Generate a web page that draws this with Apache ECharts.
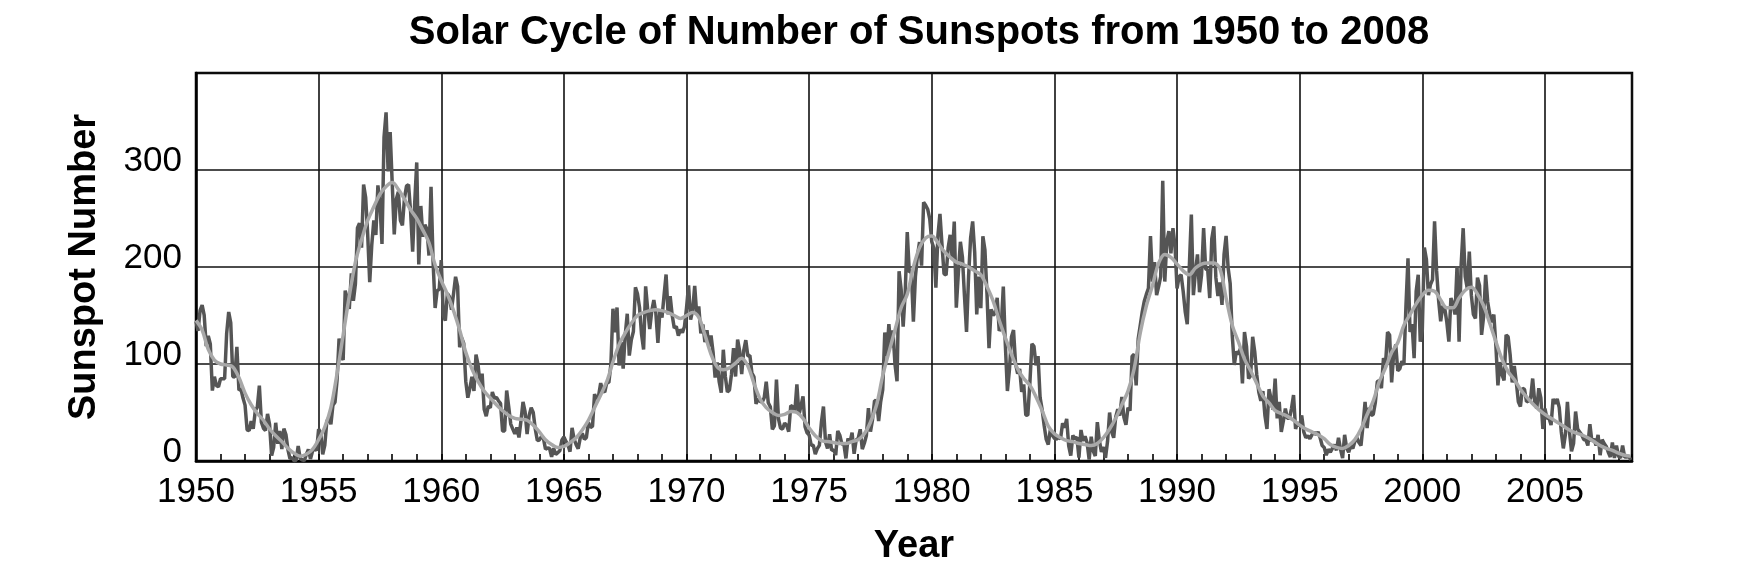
<!DOCTYPE html>
<html>
<head>
<meta charset="utf-8">
<title>Solar Cycle of Number of Sunspots from 1950 to 2008</title>
<script src="https://cdn.jsdelivr.net/npm/echarts@6/dist/echarts.min.js"></script>
<style>
html, body { margin: 0; padding: 0; background: #fff; }
#main { width: 1754px; height: 569px; }
</style>
</head>
<body>
<div id="main"></div>
<script>
var startYear = 1950;

// monthly sunspot number, one row per year (Jan..Dec)
var monthly1950s = [
	[143.9, 134.2, 155.3, 160.6, 150.4, 118.4, 128.9, 120.6, 72.6, 86.9, 77.6, 76.6],
	[84.8, 84.8, 84.8, 131.5, 153.6, 142.4, 87.1, 86.4, 117.7, 73.1, 74.2, 64.9],
	[57.6, 32.1, 31.2, 41.2, 33.1, 51.5, 55.6, 77.7, 39.9, 33.7, 31.3, 48.6],
	[37.5, 5.5, 14.2, 39.4, 17.7, 30.9, 12.2, 33.3, 27.3, 11.6, 2.3, 3.5],
	[0.3, 0.7, 15.4, 2.5, 1.1, 0.3, 6.8, 11.9, 2.1, 9.9, 13.0, 10.8],
	[32.7, 29.5, 6.9, 16.0, 40.9, 44.9, 37.8, 57.6, 60.5, 82.8, 126.3, 108.9],
	[104.2, 175.6, 167.7, 156.8, 193.4, 165.1, 182.8, 240.2, 245.3, 219.9, 285.0, 272.0],
	[233.6, 184.4, 222.9, 248.1, 233.1, 284.2, 265.1, 223.7, 333.9, 359.4, 298.6, 339.0],
	[286.7, 233.5, 270.0, 277.5, 248.2, 242.8, 271.0, 283.5, 284.9, 257.0, 215.7, 265.6],
	[307.8, 202.6, 262.9, 231.2, 243.6, 238.9, 211.8, 282.6, 205.6, 157.7, 175.6, 177.0]
];
var monthly1960s = [
	[207.2, 150.1, 144.7, 172.8, 169.4, 156.0, 172.3, 189.9, 180.1, 117.2, 126.9, 121.2],
	[82.0, 65.3, 75.0, 86.9, 72.2, 109.6, 99.4, 79.2, 90.1, 53.4, 46.2, 56.6],
	[54.8, 71.2, 64.6, 65.7, 61.9, 59.5, 30.9, 30.9, 72.6, 55.9, 38.1, 32.9],
	[28.0, 34.6, 24.2, 41.5, 60.9, 50.8, 27.8, 47.0, 54.9, 50.0, 33.1, 21.1],
	[21.7, 25.1, 23.4, 12.2, 13.5, 12.9, 4.4, 13.2, 6.7, 8.6, 10.5, 21.4],
	[24.8, 20.1, 16.6, 9.6, 34.1, 22.5, 16.9, 12.6, 23.8, 28.5, 22.4, 24.1],
	[39.9, 34.6, 35.8, 69.0, 64.1, 67.5, 80.3, 72.5, 71.1, 81.0, 81.0, 99.7],
	[157.0, 132.5, 158.3, 98.4, 122.5, 95.3, 129.6, 151.8, 108.7, 124.9, 133.5, 179.0],
	[172.5, 158.5, 130.6, 115.0, 180.1, 156.2, 136.1, 154.8, 166.0, 152.5, 121.8, 155.5],
	[147.8, 170.6, 192.3, 151.2, 169.9, 150.1, 137.1, 138.8, 129.3, 135.5, 132.4, 138.6]
];
var monthly1970s = [
	[157.9, 181.0, 145.7, 155.1, 180.5, 151.2, 159.3, 131.7, 140.9, 122.6, 134.8, 118.2],
	[129.3, 111.9, 86.0, 101.7, 81.4, 70.5, 114.7, 86.9, 71.1, 73.2, 89.5, 116.4],
	[87.1, 125.2, 113.4, 89.5, 114.0, 124.6, 108.3, 108.7, 90.6, 86.8, 58.9, 64.1],
	[61.5, 60.7, 65.1, 81.7, 60.0, 55.9, 32.7, 36.3, 84.0, 43.5, 33.8, 33.0],
	[39.1, 36.8, 30.2, 57.1, 55.9, 51.0, 79.0, 47.6, 56.9, 66.7, 35.4, 29.0],
	[26.8, 16.3, 16.3, 7.2, 12.7, 16.1, 39.9, 56.2, 19.7, 12.9, 27.5, 11.0],
	[11.5, 6.1, 31.0, 26.6, 17.6, 17.3, 2.7, 23.2, 19.1, 29.2, 7.4, 21.7],
	[23.2, 32.7, 12.3, 18.3, 26.3, 54.5, 30.3, 42.6, 62.3, 62.0, 41.2, 61.2],
	[73.5, 132.5, 108.3, 141.2, 117.1, 134.7, 99.7, 82.3, 195.7, 177.1, 138.6, 173.7],
	[235.9, 194.7, 195.4, 143.7, 190.3, 211.7, 225.7, 201.4, 266.8, 263.7, 259.6, 249.6]
];
var monthly1980s = [
	[226.0, 219.5, 178.7, 232.4, 254.7, 222.7, 193.0, 191.7, 219.5, 233.2, 209.4, 246.9],
	[158, 194, 226, 210, 170, 133, 190, 230, 247, 215, 151, 190],
	[157.5, 231.7, 217.8, 172.8, 116.4, 156.3, 150.2, 152.4, 168.2, 134.1, 138.9, 179.8],
	[119.4, 72.2, 94.2, 128, 135, 100, 90, 95, 71.2, 79.0, 47.2, 47.3],
	[80.7, 120.9, 118.2, 98.7, 108.2, 65.3, 53.0, 36.4, 22.2, 17.0, 32.3, 26.5],
	[23.4, 22.5, 24.4, 22.9, 38.9, 34.3, 43.5, 15.7, 5.5, 26.3, 22.9, 24.5],
	[3.5, 32.0, 20.8, 25.5, 18.9, 1.5, 25.0, 10.2, 5.2, 40, 21.0, 9.4],
	[14.4, 3.3, 20.3, 50, 30, 24.0, 45.5, 53.4, 46.8, 66, 45, 37.4],
	[55, 52, 108, 110, 78, 126, 140, 154, 165, 172, 178, 232],
	[185, 205, 171, 180, 190, 289, 185, 226, 237, 214, 240, 222]
];
var monthly1990s = [
	[178, 190, 192, 175, 154, 141, 200, 254, 171, 195, 213, 174],
	[192, 240, 198, 197, 168, 229, 242, 189, 170, 184, 161, 213],
	[232, 199, 183, 130, 99, 113, 110, 116, 80, 133, 118, 85],
	[88, 128, 113, 89, 71, 62, 72, 47, 33, 74, 64, 53],
	[85, 44, 61, 30, 41, 54, 44, 44, 54, 68, 33, 40],
	[36, 47, 30, 24, 26, 23, 27, 30, 27, 30, 24, 16],
	[14, 6, 12, 9, 13, 17, 11, 24, 12, 3, 27, 13],
	[9, 16, 13, 20, 24, 19, 16, 37, 61, 34, 55, 47],
	[48, 60, 82, 83, 75, 106, 100, 133, 130, 81, 111, 120],
	[93, 95, 103, 99, 160, 209, 133, 141, 106, 175, 192, 123]
];
var monthly2000s = [
	[135, 220, 208, 171, 182, 187, 247, 196, 165, 144, 160, 157],
	[143, 123, 168, 162, 151, 201, 123, 202, 240, 190, 178, 216],
	[171, 151, 147, 189, 181, 130, 149, 192, 164, 151, 143, 151],
	[119, 78, 102, 89, 83, 130, 128, 109, 81, 98, 81, 61],
	[56, 75, 74, 61, 62, 65, 85, 61, 54, 75, 65, 33],
	[54, 44, 44, 37, 64, 59, 64, 55, 30, 13, 27, 61],
	[30, 10, 18, 51, 33, 30, 27, 22, 22, 16, 38, 20],
	[23, 16, 27, 6, 22, 18, 15, 9, 4, 19, 3, 16],
	[5, 3, 16, 4, 4, 5, 1]
];

// smoothed sunspot number, one row per year (quarterly)
var smooth1950s = [
	[145, 135, 115, 104], [100, 99, 97, 86], [70, 58, 49, 42], [33, 26, 20, 13], [8, 5, 7, 12],
	[22, 35, 55, 90], [130, 170, 205, 228], [248, 262, 275, 283], [287, 280, 270, 259], [250, 238, 225, 202]
];
var smooth1960s = [
	[186, 172, 155, 135], [112, 95, 82, 72], [65, 58, 52, 47], [44, 43, 42, 37], [30, 22, 17, 14],
	[15, 19, 24, 32], [42, 55, 68, 82], [102, 120, 132, 142], [150, 153, 155, 156], [155, 153, 150, 147]
];
var smooth1970s = [
	[150, 153, 148, 130], [110, 97, 94, 96], [101, 106, 98, 80], [64, 55, 50, 47], [48, 51, 50, 44],
	[34, 26, 21, 20], [19, 18, 18, 20], [22, 28, 40, 58], [88, 112, 135, 158], [172, 200, 220, 230]
];
var smooth1980s = [
	[232, 225, 216, 210], [205, 203, 200, 196], [192, 180, 165, 145], [127, 110, 95, 85], [78, 66, 52, 36],
	[28, 24, 21, 20], [18, 17, 16, 18], [24, 33, 44, 58], [72, 95, 132, 160], [181, 204, 213, 210]
];
var smooth1990s = [
	[203, 196, 192, 199], [203, 204, 204, 198], [168, 140, 123, 105], [93, 80, 67, 60], [52, 49, 46, 42],
	[37, 33, 30, 27], [23, 17, 14, 13], [16, 22, 33, 48], [62, 82, 96, 112], [122, 140, 151, 162]
];
var smooth2000s = [
	[171, 176, 175, 166], [158, 158, 168, 176], [179, 172, 160, 142], [123, 105, 92, 84], [74, 66, 59, 53],
	[48, 44, 40, 36], [32, 29, 27, 24], [20, 16, 13, 11], [8, 6, 5]
];

var chartTitle = 'Solar Cycle of Number of Sunspots from 1950 to 2008';

// year rows -> [decimal year, value]
function toPoints(decades, perYear){
	var pts = [];
	var rows = [].concat.apply([], decades);
	for(var y=0;y<rows.length;y++){
		for(var k=0;k<rows[y].length;k++){
			pts.push([startYear + y + k/perYear, rows[y][k]]);
		}
	}
	return pts;
}

var monthlyPoints = toPoints([monthly1950s, monthly1960s, monthly1970s, monthly1980s, monthly1990s, monthly2000s], 12);
var smoothPoints = toPoints([smooth1950s, smooth1960s, smooth1970s, smooth1980s, smooth1990s, smooth2000s], 4);

var myChart = echarts.init(document.getElementById('main'));
var fontFamily = '"Liberation Sans", Arial, Helvetica, sans-serif';

var option = {
	animation: false,
	backgroundColor: '#fff',
	textStyle: { fontFamily: fontFamily },
	title: {
		text: chartTitle,
		left: 914,
		top: 8,
		textAlign: 'center',
		textStyle: { fontSize: 40, fontWeight: 'bold', color: '#000', fontFamily: fontFamily }
	},
	grid: {
		left: 196,
		right: 122,
		top: 73,
		bottom: 108,
		show: true,
		borderColor: '#000',
		borderWidth: 2.5,
		outerBoundsMode: 'none'
	},
	xAxis: [
		{
			type: 'value',
			min: 1950,
			max: 2008.55,
			interval: 5,
			name: 'Year',
			nameLocation: 'middle',
			nameGap: 67,
			nameTextStyle: { fontSize: 38, fontWeight: 'bold', color: '#000', fontFamily: fontFamily },
			axisLine: { show: true, lineStyle: { color: '#000', width: 2.5 } },
			axisTick: { show: false },
			axisLabel: {
				fontSize: 35, color: '#000', margin: 14, showMaxLabel: false, fontFamily: fontFamily,
				formatter: function(v){ return String(v); }
			},
			splitLine: { show: true, lineStyle: { color: '#111', width: 1.6 } }
		},
		{
			// yearly tick marks along the bottom
			type: 'value',
			position: 'bottom',
			min: 1950,
			max: 2008.55,
			interval: 1,
			axisLine: { show: false },
			axisLabel: { show: false },
			splitLine: { show: false },
			axisTick: { show: true, inside: true, length: 7, lineStyle: { color: '#000', width: 1.6 } }
		}
	],
	yAxis: {
		type: 'value',
		min: 0,
		max: 400,
		interval: 100,
		name: 'Sunspot Number',
		nameLocation: 'middle',
		nameGap: 92,
		nameTextStyle: { fontSize: 38, fontWeight: 'bold', color: '#000', fontFamily: fontFamily },
		axisLine: { show: true, lineStyle: { color: '#000', width: 2.5 } },
		axisTick: { show: false },
		axisLabel: {
			fontSize: 35, color: '#000', margin: 14, showMaxLabel: false, fontFamily: fontFamily,
			verticalAlign: 'bottom', lineHeight: 18
		},
		splitLine: { show: true, lineStyle: { color: '#111', width: 1.6 } }
	},
	series: [
		{
			name: 'Monthly',
			type: 'line',
			xAxisIndex: 0,
			data: monthlyPoints,
			symbol: 'none',
			lineStyle: { color: '#555555', width: 3.5 },
			z: 2
		},
		{
			name: 'Smoothed',
			type: 'line',
			xAxisIndex: 0,
			data: smoothPoints,
			symbol: 'none',
			smooth: 0.35,
			lineStyle: { color: '#a8a8a8', width: 3.5 },
			z: 3
		}
	]
};

myChart.setOption(option);
</script>
</body>
</html>
